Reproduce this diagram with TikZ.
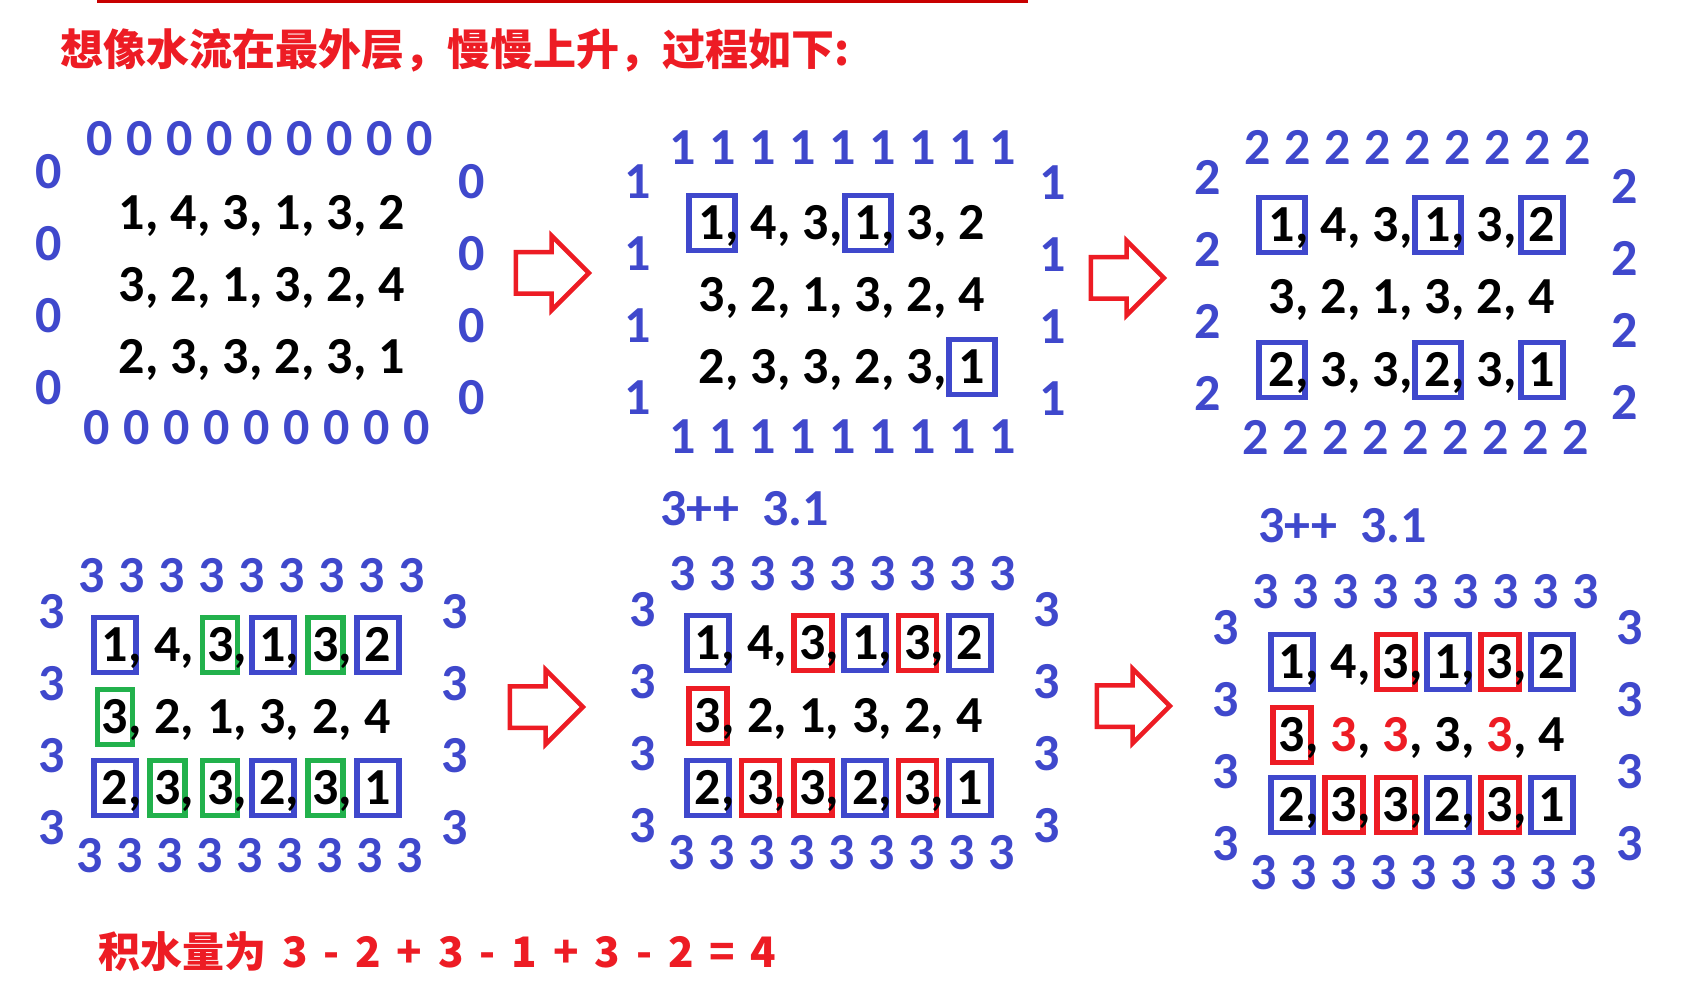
\documentclass[tikz,border=0pt]{standalone}
\usepackage{fontspec}
\setmainfont{Carlito}
\newfontfamily\cjk{Noto Sans CJK SC}
\newfontfamily\sumfont{Noto Sans CJK SC}[WordSpace=1.65]
\usetikzlibrary{calc}
\usetikzlibrary{shapes.arrows}
\definecolor{paintblue}{RGB}{63,72,204}
\definecolor{paintred}{RGB}{237,28,36}
\definecolor{paintgreen}{RGB}{34,177,76}
\definecolor{topred}{RGB}{200,0,0}
\tikzset{
  num/.style={inner sep=0pt, text height=33pt, text depth=0pt,
    font=\fontsize{52}{60}\selectfont\bfseries},
  ringnum/.style={num, text=paintblue},
  cell/.style={num},
  nobox/.style={},
  boxed/.style={draw, line width=5.5pt, minimum height=55pt},
  bbox/.style={boxed, draw=paintblue, minimum width=42pt},
  wbox/.style={boxed, draw=paintblue, minimum width=46pt},
  rbox/.style={boxed, draw=paintred, minimum width=38pt},
  gbox/.style={boxed, draw=paintgreen, minimum width=35pt},
  rtxt/.style={text=paintred},
  rarrow/.style={single arrow, draw=paintred, line width=4.5pt,
    inner xsep=0pt, inner ysep=18.5pt, minimum height=73pt,
    single arrow head extend=16.5pt},
}
% water level ring: name, digit, top row, bottom row, left column, right column
\newcommand{\waterring}[6]{%
  \foreach \i in {0,...,8} {
    \node[ringnum] (#1t\i) at ($(#3)+(40*\i,0)$) {#2};
    \node[ringnum] (#1b\i) at ($(#4)+(40*\i,0)$) {#2};
  }
  \foreach \i in {0,...,3} {
    \node[ringnum] (#1l\i) at ($(#5)+(0,72*\i)$) {#2};
    \node[ringnum] (#1r\i) at ($(#6)+(0,72*\i)$) {#2};
  }
}
% one row of heights: name, first cell, step, value/kind list
\newcommand{\waterrow}[4]{%
  \foreach \val/\kind [count=\c] in {#4} {
    \node[cell,\kind] (#1c\c) at ($(#2)+(#3*\c-#3,0)$)
      {\val\ifnum\c<6\rlap{\color{black},}\fi};
  }
}

\begin{document}
\begin{tikzpicture}[x=1pt,y=-1pt]
  \fill[white] (0,0) rectangle (1701,992);
  \useasboundingbox (0,0) rectangle (1701,992);
  %heading
  \draw[topred, line width=3pt] (97,1.5) -- (1028,1.5);
  \node[anchor=west, inner sep=0pt, text=paintred,
    font=\cjk\bfseries\fontsize{43}{50}\selectfont] (title) at (60,50)
    {想像水流在最外层，慢慢上升，过程如下:};
  %level 0
  \waterring{lv0}{0}{100,139}{97,428}{49,172}{472,182}
  \waterrow{lv0r1}{132,213}{52}{1/nobox,4/nobox,3/nobox,1/nobox,3/nobox,2/nobox}
  \waterrow{lv0r2}{132,285}{52}{3/nobox,2/nobox,1/nobox,3/nobox,2/nobox,4/nobox}
  \waterrow{lv0r3}{132,357}{52}{2/nobox,3/nobox,3/nobox,2/nobox,3/nobox,1/nobox}
  %level 1
  \waterring{lv1}{1}{683,148}{683,437}{638,182}{1053,183}
  \waterrow{lv1r1}{712,223}{52}{1/wbox,4/nobox,3/nobox,1/wbox,3/nobox,2/nobox}
  \waterrow{lv1r2}{712,295}{52}{3/nobox,2/nobox,1/nobox,3/nobox,2/nobox,4/nobox}
  \waterrow{lv1r3}{712,367}{52}{2/nobox,3/nobox,3/nobox,2/nobox,3/nobox,1/wbox}
  %level 2
  \waterring{lv2}{2}{1258,148}{1256,438}{1208,178}{1625,187}
  \waterrow{lv2r1}{1282,225}{52}{1/wbox,4/nobox,3/nobox,1/wbox,3/nobox,2/bbox}
  \waterrow{lv2r2}{1282,297}{52}{3/nobox,2/nobox,1/nobox,3/nobox,2/nobox,4/nobox}
  \waterrow{lv2r3}{1282,370}{52}{2/wbox,3/nobox,3/nobox,2/wbox,3/nobox,1/bbox}
  %level 3
  \waterring{lv3}{3}{92,576}{90,856}{52,612}{455,612}
  \waterrow{lv3r1}{115,645}{52.6}{1/bbox,4/nobox,3/gbox,1/bbox,3/gbox,2/bbox}
  \waterrow{lv3r2}{115,717}{52.6}{3/gbox,2/nobox,1/nobox,3/nobox,2/nobox,4/nobox}
  \waterrow{lv3r3}{115,788}{52.6}{2/bbox,3/gbox,3/gbox,2/bbox,3/gbox,1/bbox}
  %level 3, walls
  \node[ringnum, anchor=west] (lv4note) at (660,509) {3++\ \ 3.1};
  \waterring{lv4}{3}{683,574}{682,853}{643,610}{1047,610}
  \waterrow{lv4r1}{708,643}{52.4}{1/bbox,4/nobox,3/rbox,1/bbox,3/rbox,2/bbox}
  \waterrow{lv4r2}{708,716}{52.4}{3/rbox,2/nobox,1/nobox,3/nobox,2/nobox,4/nobox}
  \waterrow{lv4r3}{708,788}{52.4}{2/bbox,3/rbox,3/rbox,2/bbox,3/rbox,1/bbox}
  %level 3, filled
  \node[ringnum, anchor=west] (lv5note) at (1258,526) {3++\ \ 3.1};
  \waterring{lv5}{3}{1266,592}{1264,873}{1226,628}{1630,628}
  \waterrow{lv5r1}{1292,662}{52}{1/bbox,4/nobox,3/rbox,1/bbox,3/rbox,2/bbox}
  \waterrow{lv5r2}{1292,735}{52}{3/rbox,3/rtxt,3/rtxt,3/nobox,3/rtxt,4/nobox}
  \waterrow{lv5r3}{1292,805}{52}{2/bbox,3/rbox,3/rbox,2/bbox,3/rbox,1/bbox}
  %arrows
  \node[rarrow, anchor=tip] (go1) at (592,273) {};
  \node[rarrow, anchor=tip] (go2) at (1167,278) {};
  \node[rarrow, anchor=tip] (go3) at (586,707) {};
  \node[rarrow, anchor=tip] (go4) at (1173,706) {};
  %result
  \node[anchor=west, inner sep=0pt, text=paintred,
    font=\sumfont\bfseries\fontsize{42}{50}\selectfont] (total) at (98,952)
    {积水量为 3 - 2 + 3 - 1 + 3 - 2 = 4};
\end{tikzpicture}
\end{document}
